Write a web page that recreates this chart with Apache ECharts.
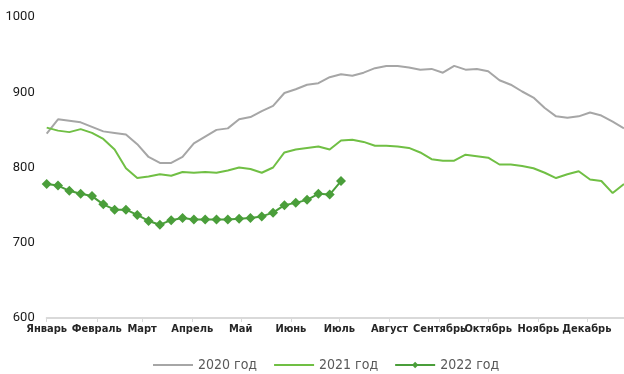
<!DOCTYPE html>
<html>
<head>
<meta charset="utf-8">
<script src="https://cdn.jsdelivr.net/npm/echarts@6/dist/echarts.min.js"></script>
<style>
	html, body { margin: 0; padding: 0; background: #fff; }
	#chart { width: 624px; height: 374px; }
</style>
</head>
<body>
<div id="chart"></div>
<script>
// подписи месяцев и их первый день в году
var months = ['Январь', 'Февраль', 'Март', 'Апрель', 'Май', 'Июнь', 'Июль', 'Август', 'Сентябрь', 'Октябрь', 'Ноябрь', 'Декабрь'];
var monthStart = [0, 31, 59, 90, 120, 151, 181, 212, 243, 273, 304, 334];

// недельные значения
var y2020 = [845, 864, 862, 860, 854, 848, 846, 844, 831, 814, 806, 806, 814, 832, 841, 850, 852, 864, 867, 875, 882, 899, 904, 910, 912, 920,
	924, 922, 926, 932, 935, 935, 933, 930, 931, 926, 935, 930, 931, 928, 916, 910, 901, 893, 879, 868, 866, 868, 873, 869, 861, 852];
var y2021 = [853, 849, 847, 851, 846, 838, 824, 799, 786, 788, 791, 789, 794, 793, 794, 793, 796, 800, 798, 793, 800, 820, 824, 826, 828, 824,
	836, 837, 834, 829, 829, 828, 826, 820, 811, 809, 809, 817, 815, 813, 804, 804, 802, 799, 793, 786, 791, 795, 784, 782, 766, 778];
var y2022 = [778, 776, 769, 765, 762, 751, 744, 744, 737, 729, 724, 730, 733, 731, 731, 731, 731, 732, 733, 735, 740, 750, 753, 757, 765, 764, 782];

var names = ['2020 год', '2021 год', '2022 год'];

function toPoints(arr) {
	var res = [];
	for (var i = 0; i < arr.length; i++) {
		res.push([i * 7, arr[i]]);
	}
	return res;
}

var chart = echarts.init(document.getElementById('chart'));

var condensed = '"Liberation Sans Narrow", "DejaVu Sans Condensed", Roboto, sans-serif';

var option = {
	animation: false,
	grid: {
		left: 46.7,
		right: 0,
		top: 17,
		bottom: 56,
		outerBoundsMode: 'none'
	},
	legend: {
		bottom: -3,
		left: 147,
		itemWidth: 40,
		itemHeight: 8,
		itemGap: 16,
		textStyle: {
			fontFamily: condensed,
			fontSize: 14,
			color: '#595959'
		},
		data: [
			{ name: names[0], itemStyle: { opacity: 0 } },
			{ name: names[1], itemStyle: { opacity: 0 } },
			{ name: names[2] }
		]
	},
	xAxis: {
		type: 'value',
		min: 0,
		max: 357,
		splitLine: { show: false },
		axisLine: {
			lineStyle: { color: '#d9d9d9', width: 2 }
		},
		axisTick: {
			show: true,
			length: 4,
			customValues: monthStart,
			lineStyle: { color: '#d9d9d9' }
		},
		axisLabel: {
			customValues: monthStart,
			margin: 6,
			fontFamily: condensed,
			fontSize: 11,
			fontWeight: 'bold',
			color: '#262626',
			formatter: function(v) {
				var idx = monthStart.indexOf(v);
				return idx >= 0 ? months[idx] : '';
			}
		}
	},
	yAxis: {
		type: 'value',
		min: 600,
		max: 1000,
		interval: 100,
		splitLine: { show: false },
		axisLine: { show: false },
		axisTick: { show: false },
		axisLabel: {
			margin: 12,
			fontFamily: 'Roboto, "Liberation Sans", sans-serif',
			fontSize: 13,
			color: '#1a1a1a',
			formatter: function(v) {
				return String(v);
			}
		}
	},
	series: [{
		name: names[0],
		type: 'line',
		data: toPoints(y2020),
		showSymbol: false,
		symbol: 'none',
		lineStyle: { color: '#a6a6a6', width: 2 },
		itemStyle: { color: '#a6a6a6' }
	}, {
		name: names[1],
		type: 'line',
		data: toPoints(y2021),
		showSymbol: false,
		symbol: 'none',
		lineStyle: { color: '#70bf44', width: 2 },
		itemStyle: { color: '#70bf44' }
	}, {
		name: names[2],
		type: 'line',
		data: toPoints(y2022),
		symbol: 'diamond',
		symbolSize: 10,
		lineStyle: { color: '#4a9e3a', width: 2 },
		itemStyle: { color: '#4a9e3a' }
	}]
};

chart.setOption(option);
</script>
</body>
</html>
